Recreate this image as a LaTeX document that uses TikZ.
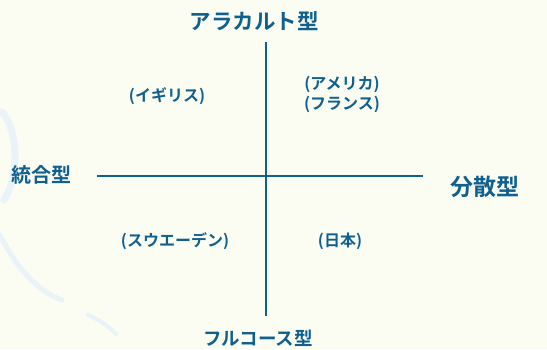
\documentclass[tikz,border=0pt]{standalone}
\usepackage{fontspec}
\newfontfamily\jp{Noto Sans CJK JP Bold}
\definecolor{ink}{HTML}{10608F}
\definecolor{bg}{HTML}{FBFDF3}
\definecolor{swirl}{HTML}{EAF3F7}
\begin{document}
\begin{tikzpicture}[x=1pt,y=-1pt,
  lbl/.style={text=ink,font=\jp,inner sep=0pt},
  small/.style={lbl,font=\jp\fontsize{16}{18}\selectfont},
  axis/.style={draw=ink,line width=1.5pt}]
\fill[bg] (0,0) rectangle (547,349);
\useasboundingbox (0,0) rectangle (547,349);
% faint background swirl
\draw[swirl,line width=7pt,line cap=round] (2,112) .. controls (18,130) and (20,175) .. (4,200);
\draw[swirl,line width=5pt,line cap=round] (0,235) .. controls (15,265) and (35,290) .. (62,300);
\draw[swirl,line width=4pt,line cap=round] (88,315) .. controls (100,320) and (108,326) .. (116,334);
% axes
\coordinate (top) at (266,42);
\coordinate (bot) at (266,316);
\coordinate (lft) at (97,176);
\coordinate (rgt) at (423,176);
\draw[axis] (top) -- (bot);
\draw[axis] (lft) -- (rgt);
% axis labels
\node[lbl,font=\jp\fontsize{21.5}{23}\selectfont] (a) at (254,21) {アラカルト型};
\node[lbl,font=\jp\fontsize{18.5}{20}\selectfont] (f) at (258,338) {フルコース型};
\node[lbl,font=\jp\fontsize{20}{22}\selectfont] (t) at (42,175) {統合型};
\node[lbl,font=\jp\fontsize{23}{25}\selectfont] (d) at (485,187) {分散型};
% quadrant labels
\node[small] (uk) at (167,96) {(イギリス)};
\node[small,align=center] (usfr) at (342,94) {(アメリカ)\\[2pt](フランス)};
\node[small] (se) at (175,241) {(スウエーデン)};
\node[small] (jp) at (340,241) {(日本)};
\end{tikzpicture}
\end{document}
